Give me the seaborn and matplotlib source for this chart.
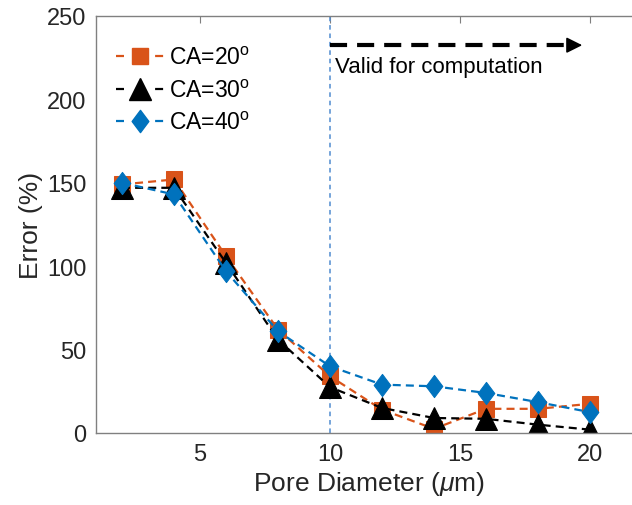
import numpy as np
import pandas as pd
import seaborn as sns
import matplotlib
matplotlib.use("Agg")
import matplotlib.pyplot as plt
from matplotlib.lines import Line2D
from matplotlib.path import Path

diameters = [2, 4, 6, 8, 10, 12, 14, 16, 18, 20]
err_ca20 = [149, 152, 106, 62, 34, 14, 2.5, 14.5, 14.5, 17.5]
err_ca30 = [147, 147, 102, 56, 27.5, 15, 9, 8.5, 5, 2]
err_ca40 = [150, 143, 97, 61, 40, 29, 28, 24, 18.5, 12.5]
series_labels = ["CA=20$^{\\mathrm{o}}$", "CA=30$^{\\mathrm{o}}$", "CA=40$^{\\mathrm{o}}$"]
x_ticks = [5, 10, 15, 20]
y_ticks = [0, 50, 100, 150, 200, 250]
annot_text = "Valid for computation"

diamond = Path([(0, 1), (0.75, 0), (0, -1), (-0.75, 0), (0, 1)],
               [Path.MOVETO, Path.LINETO, Path.LINETO, Path.LINETO, Path.CLOSEPOLY])
colors = ["#D95319", "#000000", "#0072BD"]
markers = ["s", "^", diamond]
msizes = [11, 15.5, 16]

sns.set_theme(style="white")
plt.rcParams["font.family"] = ["Liberation Sans", "DejaVu Sans"]
plt.rcParams["mathtext.fontset"] = "custom"
plt.rcParams["mathtext.rm"] = "Liberation Sans"
plt.rcParams["mathtext.it"] = "Liberation Sans:italic"

fig = plt.figure(figsize=(6.32, 5.06), dpi=100)
ax = fig.add_axes([96/632, 1-434/506, 546/632, 417/506])

df = pd.DataFrame({
    "x": diameters * 3,
    "y": err_ca20 + err_ca30 + err_ca40,
    "s": [series_labels[0]]*10 + [series_labels[1]]*10 + [series_labels[2]]*10,
})

for i, lab in enumerate(series_labels):
    sub = df[df["s"] == lab]
    sns.lineplot(data=sub, x="x", y="y", ax=ax, color=colors[i], marker=markers[i],
                 markersize=msizes[i], linestyle=(0, (3.6, 2.3)),
                 linewidth=1.6, markeredgecolor=colors[i], legend=False)

ax.axvline(10, color="#4F8BD0", linestyle=(0, (3, 2.5)), linewidth=1.1, zorder=1)
ax.plot([10, 19.25], [232.5, 232.5], color="black", linewidth=3.0,
        linestyle=(0, (4.1, 2.4)), solid_capstyle="butt", dash_capstyle="butt")
ax.annotate("", xy=(19.7, 232.5), xytext=(19.2, 232.5),
            arrowprops=dict(arrowstyle="-|>,head_length=0.8,head_width=0.4", color="black",
                            lw=1.2, shrinkA=0, shrinkB=0))
ax.text(10.2, 219.5, annot_text, fontsize=16, color="#000000", va="center", ha="left")

ax.set_xlim(1, 22)
ax.set_ylim(0, 250)
ax.set_xticks(x_ticks)
ax.set_yticks(y_ticks)
ax.set_xlabel("Pore Diameter ($\\mu$m)", fontsize=19, color="#262626", labelpad=3)
ax.set_ylabel("Error (%)", fontsize=19, color="#262626", labelpad=3)
ax.tick_params(axis="both", which="both", direction="in", length=5, width=0.8,
               top=True, right=True, labelsize=17, colors="#7f7f7f", labelcolor="#262626", pad=7)
for sp in ax.spines.values():
    sp.set_color("#808080")
    sp.set_linewidth(1.0)

handles = [Line2D([0], [0], color=colors[i], marker=markers[i], markersize=msizes[i],
                  markeredgecolor=colors[i], linewidth=1.6,
                  linestyle=(0, (3.6, 14.0))) for i in range(3)]
leg = ax.legend(handles, series_labels, loc="upper left", bbox_to_anchor=(0.007, 0.966),
                frameon=False, fontsize=16.5, handlelength=2.1, handletextpad=0.2,
                labelspacing=0.42, borderaxespad=0.3)
for t in leg.get_texts():
    t.set_color("#000000")

fig.savefig("out.png", dpi=100)
